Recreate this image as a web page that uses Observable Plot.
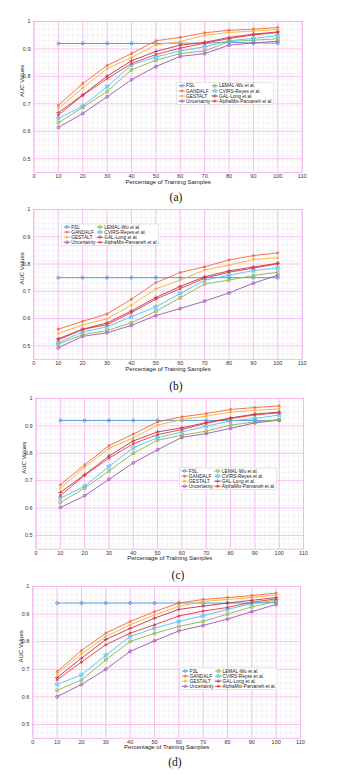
<!DOCTYPE html>
<html><head><meta charset="utf-8">
<script src="https://cdn.jsdelivr.net/npm/d3@7"></script>
<script src="https://cdn.jsdelivr.net/npm/@observablehq/plot@0.6"></script>
<style>
body{margin:0;background:#fff;}
#wrap{position:relative;width:359px;height:774px;overflow:hidden;background:#fff;}
.panel{position:absolute;left:0;z-index:1;}
.cap{position:absolute;z-index:5;font-family:"Liberation Serif","Times New Roman",serif;font-size:11.5px;color:#111;transform:translate(-50%,-50%);white-space:nowrap;}
</style></head><body><div id="wrap"></div>
<script>
const samples = [10, 20, 30, 40, 50, 60, 70, 80, 90, 100];
const methods = ["FSL", "GANDALF", "GESTALT", "Uncertainty", "LEMAL-Wu et al.", "CVIRS-Reyes et al.", "GAL-Long et al.", "AlphaMix-Parvaneh et al."];
const colors = ["#4a90d4", "#f0663a", "#f8b133", "#9c55b3", "#8db54e", "#4fc2f2", "#b3384f", "#ef3434"];
const symbols = ["circle", "asterisk", "asterisk", "circle", "square", "star", "plus", "asterisk"];

// panel (a)
const aucA = [
  [0.92, 0.92, 0.92, 0.92, 0.92, 0.921, 0.921, 0.924, 0.922, 0.921],
  [0.695, 0.774, 0.840, 0.883, 0.930, 0.942, 0.959, 0.968, 0.972, 0.978],
  [0.683, 0.758, 0.828, 0.869, 0.915, 0.927, 0.950, 0.960, 0.965, 0.971],
  [0.614, 0.665, 0.726, 0.788, 0.836, 0.873, 0.883, 0.914, 0.922, 0.928],
  [0.631, 0.687, 0.745, 0.824, 0.859, 0.883, 0.893, 0.927, 0.932, 0.937],
  [0.647, 0.692, 0.763, 0.842, 0.871, 0.893, 0.908, 0.930, 0.938, 0.949],
  [0.668, 0.733, 0.801, 0.857, 0.891, 0.914, 0.924, 0.942, 0.954, 0.962],
  [0.659, 0.731, 0.792, 0.847, 0.880, 0.903, 0.921, 0.938, 0.951, 0.960]
];
// panel (b)
const aucB = [
  [0.75, 0.75, 0.75, 0.75, 0.75, 0.75, 0.75, 0.75, 0.75, 0.75],
  [0.561, 0.590, 0.617, 0.671, 0.732, 0.769, 0.790, 0.815, 0.831, 0.841],
  [0.545, 0.577, 0.599, 0.649, 0.709, 0.741, 0.778, 0.796, 0.817, 0.823],
  [0.493, 0.535, 0.548, 0.575, 0.611, 0.637, 0.664, 0.694, 0.730, 0.759],
  [0.506, 0.541, 0.556, 0.585, 0.627, 0.676, 0.727, 0.741, 0.758, 0.770],
  [0.512, 0.551, 0.570, 0.607, 0.643, 0.692, 0.741, 0.759, 0.776, 0.786],
  [0.526, 0.561, 0.584, 0.628, 0.677, 0.718, 0.753, 0.775, 0.789, 0.803],
  [0.522, 0.560, 0.578, 0.622, 0.671, 0.710, 0.748, 0.770, 0.785, 0.801]
];
// panel (c)
const aucC = [
  [0.92, 0.92, 0.92, 0.92, 0.92, 0.92, 0.92, 0.92, 0.92, 0.92],
  [0.685, 0.758, 0.828, 0.870, 0.915, 0.933, 0.945, 0.960, 0.967, 0.973],
  [0.672, 0.750, 0.818, 0.856, 0.903, 0.923, 0.936, 0.950, 0.957, 0.962],
  [0.602, 0.645, 0.705, 0.765, 0.813, 0.858, 0.872, 0.891, 0.911, 0.921],
  [0.620, 0.673, 0.735, 0.800, 0.848, 0.866, 0.881, 0.903, 0.914, 0.923],
  [0.636, 0.680, 0.752, 0.820, 0.857, 0.878, 0.899, 0.918, 0.927, 0.940],
  [0.657, 0.722, 0.790, 0.845, 0.878, 0.893, 0.912, 0.929, 0.943, 0.950],
  [0.645, 0.720, 0.782, 0.835, 0.868, 0.887, 0.910, 0.927, 0.940, 0.948]
];
// panel (d)
const aucD = [
  [0.94, 0.94, 0.94, 0.94, 0.94, 0.94, 0.94, 0.94, 0.94, 0.942],
  [0.692, 0.768, 0.831, 0.873, 0.909, 0.940, 0.953, 0.960, 0.967, 0.976],
  [0.684, 0.756, 0.819, 0.861, 0.897, 0.928, 0.946, 0.953, 0.960, 0.969],
  [0.601, 0.645, 0.700, 0.765, 0.803, 0.839, 0.859, 0.882, 0.909, 0.935],
  [0.624, 0.661, 0.734, 0.801, 0.830, 0.855, 0.874, 0.900, 0.926, 0.946],
  [0.645, 0.680, 0.751, 0.819, 0.849, 0.873, 0.894, 0.917, 0.938, 0.950],
  [0.670, 0.740, 0.808, 0.848, 0.885, 0.917, 0.929, 0.940, 0.950, 0.960],
  [0.662, 0.726, 0.789, 0.831, 0.861, 0.893, 0.911, 0.924, 0.943, 0.955]
];

const xTicks = [0, 10, 20, 30, 40, 50, 60, 70, 80, 90, 100, 110];
const yTicks = [0.5, 0.6, 0.7, 0.8, 0.9, 1];
const yTickLabels = ["0.5", "0.6", "0.7", "0.8", "0.9", "1"];
const xLabel = "Percentage of Training Samples";
const yLabel = "AUC Values";
const captions = ["(a)", "(b)", "(c)", "(d)"];

const panels = [
  {data: aucA, x0: 33.5, x1: 301.7, yT: 20.7, yB: 171.7, leg: {x: 176.5, y: 82.5}, cap: {x: 176, y: 197.3}},
  {data: aucB, x0: 33.3, x1: 301.7, yT: 209.3, yB: 359.3, leg: {x: 61.7, y: 224.3}, cap: {x: 176, y: 385.7}},
  {data: aucC, x0: 35.5, x1: 303, yT: 398.3, yB: 549, leg: {x: 179.3, y: 468.3}, cap: {x: 178, y: 574.7}},
  {data: aucD, x0: 32.3, x1: 300, yT: 585.7, yB: 737.5, leg: {x: 180, y: 667.7}, cap: {x: 175, y: 762.3}}
];

const xMinor = d3.range(0, 111, 2);
const yMinor = d3.range(45, 101, 2).map(v => v / 100);
const majorC = "#f6b2f0";
const minorC = "#ece8ee";
const wrap = document.getElementById("wrap");
const symbolMap = {circle: d3.symbolCircle, asterisk: d3.symbolAsterisk, square: d3.symbolSquare, star: d3.symbolStar, plus: d3.symbolPlus};

panels.forEach((p, pi) => {
  const rows = [];
  methods.forEach((m, mi) => samples.forEach((s, si) => rows.push({method: m, x: s, auc: p.data[mi][si]})));
  const mt = 8, mb = 20;
  const chart = Plot.plot({
    width: 359,
    height: (p.yB - p.yT) + mt + mb,
    marginTop: mt, marginBottom: mb,
    marginLeft: p.x0, marginRight: 359 - p.x1,
    style: {fontFamily: "'Liberation Sans', Arial, sans-serif", background: "transparent", overflow: "visible"},
    x: {domain: [0, 110]},
    y: {domain: [0.45, 1]},
    color: {domain: methods, range: colors},
    symbol: {domain: methods, range: symbols},
    marks: [
      Plot.ruleX(xMinor, {stroke: minorC, strokeWidth: 0.5}),
      Plot.ruleY(yMinor, {stroke: minorC, strokeWidth: 0.5}),
      Plot.ruleX(xTicks, {stroke: majorC, strokeWidth: 0.8}),
      Plot.ruleY(yTicks, {stroke: majorC, strokeWidth: 0.8}),
      Plot.frame({stroke: majorC, strokeWidth: 0.8}),
      Plot.axisX({ticks: xTicks, tickSize: 0, tickPadding: 1.5, fontSize: 5.5, fill: "#333", label: null}),
      Plot.axisY({ticks: yTicks, tickFormat: (d, i) => yTickLabels[i], tickSize: 0, tickPadding: 3.5, fontSize: 5.5, fill: "#333", label: null}),
      Plot.text([xLabel], {frameAnchor: "bottom", dy: 11, fontSize: 6, fill: "#222"}),
      Plot.text([yLabel], {frameAnchor: "left", dx: -12, rotate: -90, fontSize: 6, fill: "#222"}),
      Plot.line(rows, {x: "x", y: "auc", z: "method", stroke: "method", strokeWidth: 0.9}),
      Plot.dot(rows, {x: "x", y: "auc", stroke: "method", symbol: "method", r: 1.5, strokeWidth: 0.8})
    ]
  });
  chart.classList.add("panel");
  const svgTop = p.yT - mt;
  chart.style.top = svgTop + "px";
  wrap.appendChild(chart);

  // legend (drawn inside the svg)
  const svg = d3.select(chart);
  const lx = p.leg.x, ly = p.leg.y - svgTop;
  const g = svg.append("g")
    .attr("font-family", "'Liberation Sans', Arial, sans-serif")
    .attr("font-size", 4.8)
    .attr("text-anchor", "start");
  g.append("rect").attr("x", lx).attr("y", ly).attr("width", 97).attr("height", 21.5)
    .attr("fill", "white").attr("stroke", "#cfcfcf").attr("stroke-width", 0.5);
  methods.forEach((m, mi) => {
    const col = mi < 4 ? 0 : 1, row = mi % 4;
    const ex = lx + 2 + col * 33, ey = ly + 3 + row * 5.1;
    g.append("line").attr("x1", ex).attr("x2", ex + 6.5).attr("y1", ey).attr("y2", ey)
      .attr("stroke", colors[mi]).attr("stroke-width", 0.9);
    g.append("path").attr("d", d3.symbol(symbolMap[symbols[mi]], 6)()).attr("transform", `translate(${ex + 3.25},${ey})`)
      .attr("fill", "none").attr("stroke", colors[mi]).attr("stroke-width", 0.7);
    g.append("text").attr("x", ex + 7.5).attr("y", ey).attr("dy", "0.35em")
      .attr("text-anchor", "start").attr("fill", "#222").text(m);
  });

  const cap = document.createElement("div");
  cap.className = "cap";
  cap.textContent = captions[pi];
  cap.style.left = p.cap.x + "px";
  cap.style.top = p.cap.y + "px";
  wrap.appendChild(cap);
});
</script></body></html>
